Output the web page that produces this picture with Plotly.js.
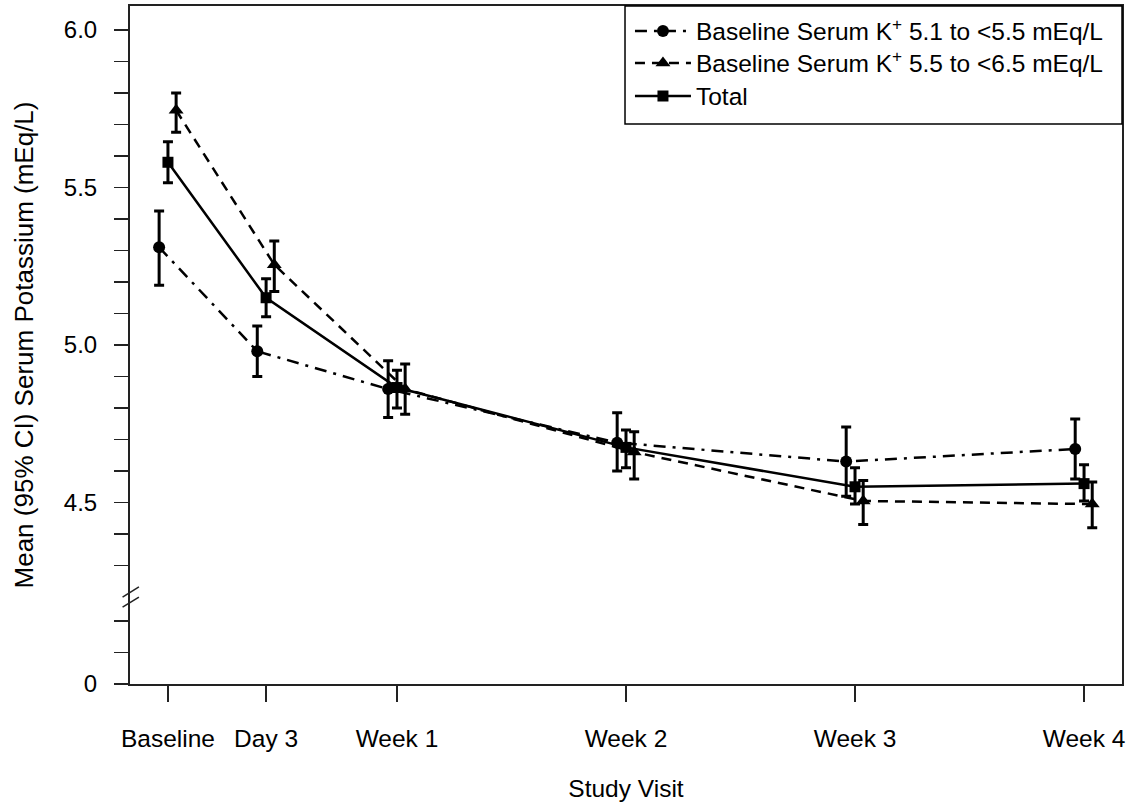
<!DOCTYPE html>
<html>
<head>
<meta charset="utf-8">
<script src="https://cdn.plot.ly/plotly-3.0.1.min.js"></script>
<style>html,body{margin:0;padding:0;background:#fff}#chart{width:1129px;height:802px}</style>
</head>
<body>
<div id="chart"></div>
<script>
// ---- data ----
const visitLabels = ["Baseline", "Day 3", "Week 1", "Week 2", "Week 3", "Week 4"];
const visitDays = [0, 3, 7, 14, 21, 28];

const seriesNames = [
  "Baseline Serum K<sup>+</sup> 5.1 to &lt;5.5 mEq/L",
  "Baseline Serum K<sup>+</sup> 5.5 to &lt;6.5 mEq/L",
  "Total"
];

const lowMean  = [5.31, 4.98, 4.86, 4.69, 4.63, 4.67];
const lowLower = [5.19, 4.90, 4.77, 4.60, 4.52, 4.575];
const lowUpper = [5.425, 5.06, 4.95, 4.785, 4.74, 4.765];

const highMean  = [5.745, 5.255, 4.86, 4.66, 4.505, 4.495];
const highLower = [5.675, 5.17, 4.78, 4.575, 4.43, 4.42];
const highUpper = [5.80, 5.33, 4.94, 4.725, 4.57, 4.565];

const totMean  = [5.58, 5.15, 4.865, 4.675, 4.55, 4.56];
const totLower = [5.515, 5.09, 4.80, 4.61, 4.495, 4.505];
const totUpper = [5.645, 5.21, 4.92, 4.73, 4.61, 4.62];

const yTickLabels = ["0", "4.5", "5.0", "5.5", "6.0"];
const yTickValues = [0, 4.5, 5.0, 5.5, 6.0];
const yMinorValues = [4.3, 4.4, 4.6, 4.7, 4.8, 4.9, 5.1, 5.2, 5.3, 5.4, 5.6, 5.7, 5.8, 5.9];
const yMinorBelowBreak = [0.1, 0.2];

// ---- layout helpers (styles/positions) ----
const ZERO_POS = 3.924;   // axis position where values below the break are drawn (0 -> ZERO_POS)
const BREAK_AT = 4.2;
function yPos(v) { return v < BREAK_AT ? ZERO_POS + v : v; }
const dodge = [-0.27, 0, 0.25];

function xs(off) { return visitDays.map(d => d + off); }
function err(mean, lo, hi, w) {
  return {type: "data", symmetric: false,
    array: hi.map((v, i) => +(v - mean[i]).toFixed(4)),
    arrayminus: mean.map((v, i) => +(v - lo[i]).toFixed(4)),
    color: "#000", thickness: 3, width: w};
}

const traces = [
  {x: xs(dodge[0]), y: lowMean, name: seriesNames[0], legend: "legend", mode: "lines+markers", type: "scatter",
   line: {color: "#000", width: 2.5, dash: "12px,7px,3px,7px"},
   marker: {symbol: "circle", size: 12, color: "#000"},
   error_y: err(lowMean, lowLower, lowUpper, 5)},
  {x: xs(dodge[2]), y: highMean, name: seriesNames[1], legend: "legend2", mode: "lines+markers", type: "scatter",
   line: {color: "#000", width: 2.5, dash: "10px,7px"},
   marker: {symbol: "triangle-up", size: 13, color: "#000"},
   error_y: err(highMean, highLower, highUpper, 5)},
  {x: xs(dodge[1]), y: totMean, name: seriesNames[2], legend: "legend3", mode: "lines+markers", type: "scatter",
   line: {color: "#000", width: 2.5},
   marker: {symbol: "square", size: 11, color: "#000"},
   error_y: err(totMean, totLower, totUpper, 5)}
];

const font = "Liberation Sans, Arial, Helvetica, sans-serif";
function legendAt(pixY) {
  return {x: 0.504, y: (684 - pixY) / 678, xanchor: "left", yanchor: "middle",
    bgcolor: "rgba(0,0,0,0)", borderwidth: 0,
    font: {family: font, size: 24.5, color: "#000"}, itemwidth: 56};
}

const layout = {
  width: 1129, height: 802,
  margin: {l: 130, r: 7, t: 6, b: 118},
  paper_bgcolor: "#fff", plot_bgcolor: "#fff",
  font: {family: font, color: "#000", size: 24},
  showlegend: true,
  legend: legendAt(31),
  legend2: legendAt(63),
  legend3: legendAt(96),
  xaxis: {range: [-1.16, 29.16], tickmode: "array", tickvals: visitDays, ticktext: visitLabels,
    ticks: "outside", ticklen: 16, tickwidth: 1.5, tickcolor: "#222",
    showline: true, linewidth: 2, linecolor: "#222", mirror: true,
    showgrid: false, zeroline: false, ticklabelstandoff: 16,
    tickfont: {family: font, size: 24.5, color: "#000"},
    title: {text: "Study Visit", font: {family: font, size: 24.5, color: "#000"}, standoff: 29}},
  yaxis: {range: [ZERO_POS, 6.076], tickmode: "array",
    tickvals: yTickValues.map(yPos), ticktext: yTickLabels,
    ticks: "outside", ticklen: 14, tickwidth: 1.5, tickcolor: "#222",
    minor: {tickmode: "array", tickvals: yMinorValues.concat(yMinorBelowBreak).map(yPos),
      ticks: "outside", ticklen: 14, tickwidth: 1.5, tickcolor: "#222", showgrid: false},
    showline: true, linewidth: 2, linecolor: "#222", mirror: true,
    showgrid: false, zeroline: false, ticklabelstandoff: 12,
    tickfont: {family: font, size: 24, color: "#000"},
    title: {text: "Mean (95% CI) Serum Potassium (mEq/L)", font: {family: font, size: 26, color: "#000"}, standoff: 23}},
  shapes: [
    {type: "rect", xref: "paper", yref: "paper", x0: 0.499, x1: 1, y0: 0.826, y1: 1,
     line: {color: "#000", width: 1.5}, fillcolor: "rgba(0,0,0,0)"},
    {type: "line", xref: "paper", yref: "y", x0: -0.0075, x1: 0.009, y0: 4.200, y1: 4.232,
     line: {color: "#222", width: 1.5}},
    {type: "line", xref: "paper", yref: "y", x0: -0.0075, x1: 0.009, y0: 4.168, y1: 4.200,
     line: {color: "#222", width: 1.5}}
  ]
};

Plotly.newPlot("chart", traces, layout, {displayModeBar: false, staticPlot: true});
</script>
</body>
</html>
